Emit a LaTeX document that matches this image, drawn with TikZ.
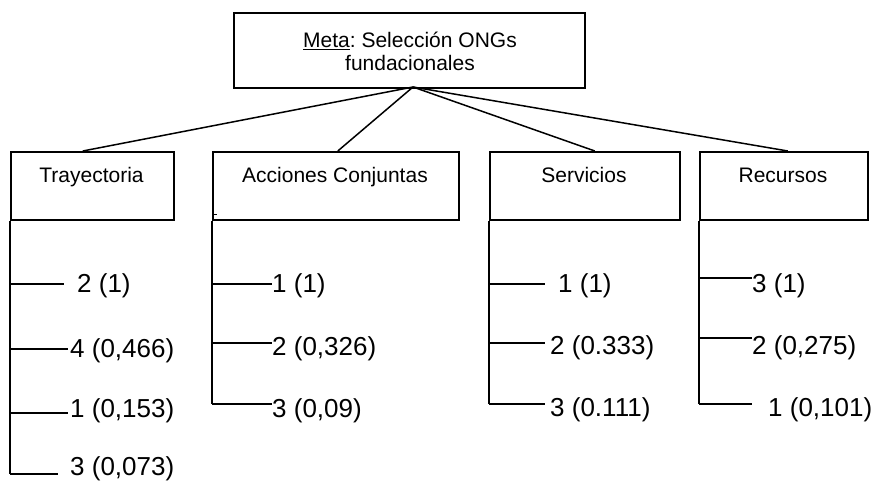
\documentclass[tikz,border=0pt]{standalone}
\usepackage{fontspec}
\setmainfont{Liberation Sans}
\frenchspacing
\usetikzlibrary{calc}
\begin{document}
\begin{tikzpicture}[x=1pt,y=-1pt,
  boxst/.style={draw,line width=1.6pt,rectangle,inner sep=0pt,anchor=north west},
  labst/.style={inner sep=0pt,anchor=base,font=\fontsize{21}{23}\selectfont},
  leafst/.style={inner sep=0pt,anchor=base west,font=\fontsize{26}{30}\selectfont},
  conn/.style={line width=1.5pt},
  tree/.style={line width=1.5pt}]
\useasboundingbox (0,0) rectangle (876,481);
% top box
\node[boxst,minimum width=351pt,minimum height=75pt] (m) at (233,12) {};
\node[labst,align=center,anchor=north] (mt) at (410,31.5) {\underline{Meta}: Selección ONGs\\fundacionales};
\coordinate (apex) at (413,87);
% category boxes
\node[boxst,minimum width=163pt,minimum height=68pt] (t) at (10,151) {};
\node[labst] (tl) at (91.5,183) {Trayectoria};
\node[boxst,minimum width=246pt,minimum height=68pt] (a) at (212,151) {};
\node[labst] (al) at (335,183) {Acciones Conjuntas};
\node[boxst,minimum width=190pt,minimum height=68pt] (s) at (489,151) {};
\node[labst] (sl) at (584,183) {Servicios};
\node[boxst,minimum width=168pt,minimum height=68pt] (r) at (699,151) {};
\node[labst] (rl) at (783,183) {Recursos};
% connectors from goal
\draw[conn] (apex) -- ($(t.north)+(-9.5,0)$);
\draw[conn] (apex) -- ($(a.north)+(2,0)$);
\draw[conn] (apex) -- ($(s.north)+(10,0)$);
\draw[conn] (apex) -- ($(r.north)+(4,0)$);
% small tick on Acciones box
\draw[line width=0.8pt] (212,214) -- (217,214);
% Trayectoria branch
\coordinate (tb) at (10,474);
\draw[tree] (t.south west) -- (tb);
\node[leafst] (t1) at (77,292) {2 (1)};
\node[leafst] (t2) at (70,357) {4 (0,466)};
\node[leafst] (t3) at (70,417) {1 (0,153)};
\node[leafst] (t4) at (70,475) {3 (0,073)};
\draw[tree] (10,284) -- (64,284);
\draw[tree] (10,349) -- (68,349);
\draw[tree] (10,413) -- (68,413);
\draw[tree] (tb) -- (58,474);
% Acciones branch
\coordinate (ab) at (212,404);
\draw[tree] (a.south west) -- (ab);
\node[leafst] (a1) at (272,292) {1 (1)};
\node[leafst] (a2) at (272,355) {2 (0,326)};
\node[leafst] (a3) at (272,417) {3 (0,09)};
\draw[tree] (212,284) -- (272,284);
\draw[tree] (212,343) -- (272,343);
\draw[tree] (ab) -- (272,404);
% Servicios branch
\coordinate (sb) at (489,404);
\draw[tree] (s.south west) -- (sb);
\node[leafst] (s1) at (558,292) {1 (1)};
\node[leafst] (s2) at (550,354) {2 (0.333)};
\node[leafst] (s3) at (550,416) {3 (0.111)};
\draw[tree] (489,284) -- (545,284);
\draw[tree] (489,343) -- (545,343);
\draw[tree] (sb) -- (545,404);
% Recursos branch
\coordinate (rb) at (699,404);
\draw[tree] (r.south west) -- (rb);
\node[leafst] (r1) at (752,292) {3 (1)};
\node[leafst] (r2) at (752,354) {2 (0,275)};
\node[leafst] (r3) at (768,416) {1 (0,101)};
\draw[tree] (699,278) -- (752,278);
\draw[tree] (699,338) -- (752,338);
\draw[tree] (rb) -- (752,404);
\end{tikzpicture}
\end{document}
